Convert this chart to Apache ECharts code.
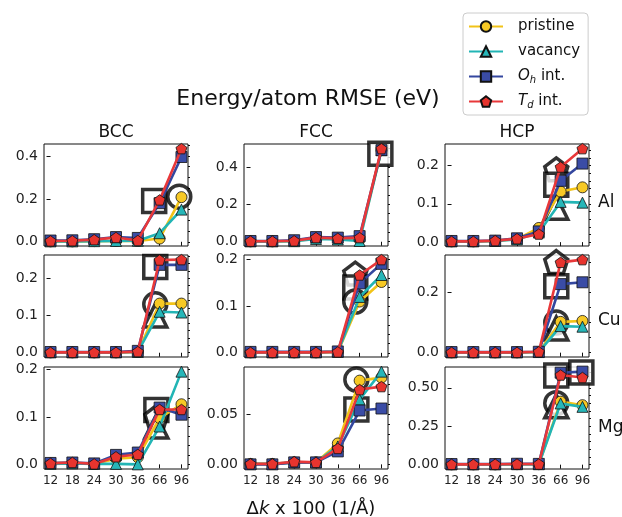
<!DOCTYPE html>
<html>
<head>
<meta charset="utf-8">
<script src="https://cdn.jsdelivr.net/npm/echarts@6/dist/echarts.min.js"></script>
<style>
  html, body { margin: 0; padding: 0; background: #fff; }
  #chart { width: 622px; height: 517px; }
</style>
</head>
<body>
<div id="chart"></div>
<script>
// x tick labels (Δk x 100)
const xLabels = ['12', '18', '24', '30', '36', '66', '96'];
const structures = ['BCC', 'FCC', 'HCP'];
const elements = ['Al', 'Cu', 'Mg'];
const seriesNames = ['pristine', 'vacancy', 'Oh int.', 'Td int.'];

// one row per series: pristine, vacancy, Oh int., Td int.
const bccAl = [
  [0.002, 0.002, 0.003, 0.004, 0.004, 0.015, 0.208],
  [0.002, 0.002, 0.003, 0.004, 0.005, 0.040, 0.150],
  [0.006, 0.007, 0.012, 0.022, 0.018, 0.180, 0.395],
  [0.004, 0.005, 0.010, 0.020, 0.006, 0.195, 0.434]
];
const fccAl = [
  [0.002, 0.002, 0.004, 0.018, 0.016, 0.012, 0.490],
  [0.002, 0.002, 0.003, 0.015, 0.012, 0.004, 0.490],
  [0.004, 0.004, 0.008, 0.025, 0.022, 0.030, 0.490],
  [0.003, 0.003, 0.005, 0.022, 0.018, 0.022, 0.498]
];
const hcpAl = [
  [0.002, 0.002, 0.003, 0.008, 0.037, 0.132, 0.143],
  [0.002, 0.002, 0.003, 0.007, 0.025, 0.105, 0.103],
  [0.003, 0.003, 0.004, 0.010, 0.028, 0.160, 0.205],
  [0.002, 0.002, 0.004, 0.009, 0.021, 0.196, 0.244]
];
const bccCu = [
  [0.001, 0.001, 0.001, 0.001, 0.002, 0.132, 0.132],
  [0.001, 0.001, 0.001, 0.001, 0.002, 0.110, 0.108],
  [0.002, 0.002, 0.002, 0.002, 0.005, 0.236, 0.236],
  [0.001, 0.001, 0.001, 0.001, 0.003, 0.249, 0.250]
];
const fccCu = [
  [0.001, 0.001, 0.001, 0.001, 0.002, 0.110, 0.152],
  [0.001, 0.001, 0.001, 0.001, 0.002, 0.120, 0.167],
  [0.002, 0.002, 0.002, 0.002, 0.003, 0.149, 0.191],
  [0.001, 0.001, 0.001, 0.001, 0.002, 0.167, 0.200]
];
const hcpCu = [
  [0.001, 0.001, 0.001, 0.001, 0.002, 0.102, 0.105],
  [0.001, 0.001, 0.001, 0.001, 0.002, 0.088, 0.086],
  [0.002, 0.002, 0.002, 0.002, 0.003, 0.227, 0.233],
  [0.001, 0.001, 0.001, 0.001, 0.003, 0.299, 0.308]
];
const bccMg = [
  [0.002, 0.003, 0.001, 0.012, 0.015, 0.098, 0.127],
  [0.001, 0.002, 0.001, 0.001, 0.000, 0.080, 0.196],
  [0.003, 0.004, 0.002, 0.020, 0.025, 0.120, 0.105],
  [0.002, 0.004, 0.001, 0.016, 0.021, 0.116, 0.116]
];
const fccMg = [
  [0.0005, 0.0005, 0.002, 0.002, 0.021, 0.084, 0.087],
  [0.0005, 0.0005, 0.002, 0.002, 0.018, 0.065, 0.093],
  [0.000, 0.000, 0.002, 0.002, 0.013, 0.054, 0.056],
  [0.0005, 0.0005, 0.0027, 0.002, 0.016, 0.075, 0.078]
];
const hcpMg = [
  [0.002, 0.002, 0.002, 0.003, 0.003, 0.410, 0.387],
  [0.002, 0.002, 0.002, 0.003, 0.003, 0.398, 0.376],
  [0.004, 0.004, 0.004, 0.006, 0.005, 0.598, 0.605],
  [0.002, 0.002, 0.003, 0.004, 0.004, 0.583, 0.567]
];

// big hollow black markers behind the data: [x index, value, shape]
const bccAlRings = [[4.75, 0.19, 'rect'], [5.9, 0.21, 'circle']];
const fccAlRings = [[5.95, 0.47, 'rect']];
const hcpAlRings = [[4.8, 0.19, 'pentagon'], [4.8, 0.15, 'rect'], [4.8, 0.09, 'triangle']];
const bccCuRings = [[4.8, 0.23, 'rect'], [4.8, 0.13, 'circle'], [4.8, 0.10, 'triangle']];
const fccCuRings = [[4.8, 0.17, 'pentagon'], [4.8, 0.14, 'rect'], [4.8, 0.11, 'circle']];
const hcpCuRings = [[4.8, 0.30, 'pentagon'], [4.8, 0.22, 'rect'], [4.8, 0.10, 'circle'], [4.8, 0.08, 'triangle']];
const bccMgRings = [[4.85, 0.115, 'rect'], [4.85, 0.10, 'pentagon'], [4.85, 0.08, 'triangle']];
const fccMgRings = [[4.85, 0.085, 'circle'], [4.85, 0.055, 'rect']];
const hcpMgRings = [[4.8, 0.58, 'rect'], [4.8, 0.40, 'circle'], [4.8, 0.38, 'triangle'], [5.95, 0.60, 'rect']];

// y tick labels per panel
const bccAlTicks = ['0.0', '0.2', '0.4'];
const fccAlTicks = ['0.0', '0.2', '0.4'];
const hcpAlTicks = ['0.0', '0.1', '0.2'];
const bccCuTicks = ['0.0', '0.1', '0.2'];
const fccCuTicks = ['0.0', '0.1', '0.2'];
const hcpCuTicks = ['0.0', '0.2'];
const bccMgTicks = ['0.0', '0.1', '0.2'];
const fccMgTicks = ['0.00', '0.05'];
const hcpMgTicks = ['0.00', '0.25', '0.50'];

const panelValues = [bccAl, fccAl, hcpAl, bccCu, fccCu, hcpCu, bccMg, fccMg, hcpMg];
const panelRings = [bccAlRings, fccAlRings, hcpAlRings, bccCuRings, fccCuRings, hcpCuRings, bccMgRings, fccMgRings, hcpMgRings];
const panelTicks = [bccAlTicks, fccAlTicks, hcpAlTicks, bccCuTicks, fccCuTicks, hcpCuTicks, bccMgTicks, fccMgTicks, hcpMgTicks];

const FONT = 'DejaVu Sans';
const pentagon = 'path://M0,-1L0.951,-0.309L0.588,0.809L-0.588,0.809L-0.951,-0.309Z';
const symbols = ['circle', 'triangle', 'rect', pentagon];
const fills = ['#F7C925', '#26B6B8', '#3A4CA6', '#E7342E'];
const lineColors = ['#F2C318', '#22B5B5', '#34479F', '#E8383A'];

const colLeft = [44, 244, 445];
const rowTop = [144, 255, 367];
const cellW = 144, cellH = 102;

const grid = [], xAxis = [], yAxis = [], series = [];

panelValues.forEach(function (vals, p) {
  const r = Math.floor(p / 3), c = p % 3;
  grid.push({
    left: colLeft[c], top: rowTop[r], width: cellW, height: cellH,
    show: true, borderColor: '#111', borderWidth: 1, backgroundColor: '#fff'
  });

  const xTicks = xLabels.map(function (_, i) { return i; });
  xAxis.push({
    type: 'value', gridIndex: p, min: -0.3, max: 6.3,
    splitLine: { show: false },
    axisLine: { show: false },
    axisTick: { show: true, length: 4, lineStyle: { color: '#111' }, customValues: xTicks },
    axisLabel: {
      show: r === 2, customValues: xTicks, margin: 6,
      color: '#222', fontSize: 12, fontFamily: FONT,
      formatter: function (v) { return xLabels[Math.round(v)]; }
    }
  });

  // y range like matplotlib autoscale (5% margins)
  let lo = Infinity, hi = -Infinity;
  vals.forEach(function (s) { s.forEach(function (v) { lo = Math.min(lo, v); hi = Math.max(hi, v); }); });
  const pad = (hi - lo) * 0.05;
  const ymin = lo - pad, ymax = hi + pad;

  const labels = panelTicks[p];
  const majors = labels.map(parseFloat);
  const step = majors[1] - majors[0];
  const mant = step / Math.pow(10, Math.floor(Math.log10(step) + 1e-9));
  const ndiv = Math.abs(mant - 2) < 1e-6 ? 4 : 5;
  const minors = [];
  for (let k = Math.ceil(ymin / (step / ndiv)); k * step / ndiv <= ymax; k++) {
    minors.push(k * step / ndiv);
  }

  yAxis.push({
    type: 'value', gridIndex: p, min: ymin, max: ymax,
    splitLine: { show: false },
    axisLine: { show: false },
    axisTick: { show: true, length: 4, lineStyle: { color: '#111' }, customValues: majors },
    axisLabel: {
      customValues: majors, margin: 6, color: '#222', fontSize: 14, fontFamily: FONT,
      formatter: function (v) {
        let best = 0;
        majors.forEach(function (m, i) { if (Math.abs(m - v) < Math.abs(majors[best] - v)) best = i; });
        return labels[best];
      }
    }
  });
  yAxis.push({
    type: 'value', gridIndex: p, min: ymin, max: ymax,
    splitLine: { show: false },
    axisLine: { show: false },
    axisLabel: { show: false },
    axisTick: { show: true, length: 2, lineStyle: { color: '#111' }, customValues: minors }
  });

  series.push({
    type: 'scatter', name: 'rings', xAxisIndex: p, yAxisIndex: 2 * p, z: 1,
    symbolSize: 23, silent: true,
    itemStyle: { color: '#fff', borderColor: '#000', borderWidth: 3.5 },
    data: panelRings[p].map(function (g) {
      return { value: [g[0], g[1]], symbol: g[2] === 'pentagon' ? pentagon : g[2] };
    })
  });

  vals.forEach(function (s, k) {
    series.push({
      type: 'line', name: seriesNames[k], xAxisIndex: p, yAxisIndex: 2 * p, z: 3 + k,
      symbol: symbols[k], symbolSize: 11, symbolKeepAspect: true,
      lineStyle: { color: lineColors[k], width: 2.6 },
      itemStyle: { color: fills[k], borderColor: '#111', borderWidth: 0.8 },
      data: s.map(function (v, i) { return [i, v]; })
    });
  });
});

const graphic = [
  { type: 'text', x: 308, y: 99, style: { text: 'Energy/atom RMSE (eV)', fontSize: 22, fontFamily: FONT, fill: '#111', align: 'center', verticalAlign: 'middle' } },
  {
    type: 'text', x: 311, y: 509,
    style: {
      text: '{n|Δ}{i|k}{n| x 100 (1/Å)}', align: 'center', verticalAlign: 'middle',
      rich: {
        n: { fontSize: 18, fontFamily: FONT, fill: '#111' },
        i: { fontSize: 18, fontFamily: FONT, fontStyle: 'italic', fill: '#111' }
      }
    }
  }
];
structures.forEach(function (s, c) {
  graphic.push({ type: 'text', x: colLeft[c] + cellW / 2, y: 133, style: { text: s, fontSize: 17, fontFamily: FONT, fill: '#111', align: 'center', verticalAlign: 'middle' } });
});
const rowLabelY = [203, 321, 428];
elements.forEach(function (e, r) {
  graphic.push({ type: 'text', x: 598, y: rowLabelY[r], style: { text: e, fontSize: 17, fontFamily: FONT, fill: '#111', align: 'left', verticalAlign: 'middle' } });
});

const chart = echarts.init(document.getElementById('chart'));
chart.setOption({
  animation: false,
  backgroundColor: '#fff',
  grid: grid,
  xAxis: xAxis,
  yAxis: yAxis,
  series: series,
  graphic: graphic,
  legend: {
    data: seriesNames,
    orient: 'vertical',
    left: 463, top: 13,
    padding: [5, 8, 5, 5],
    itemWidth: 34, itemHeight: 13, itemGap: 8,
    borderColor: '#ccc', borderWidth: 1, borderRadius: 4,
    textStyle: {
      fontSize: 15, fontFamily: FONT, color: '#111', padding: [0, 0, 0, 10], lineHeight: 17,
      rich: {
        it: { fontSize: 15, fontFamily: FONT, fontStyle: 'italic', color: '#111' },
        sub: { fontSize: 10, fontFamily: FONT, fontStyle: 'italic', color: '#111', padding: [7, 0, 0, 0] },
        n: { fontSize: 15, fontFamily: FONT, color: '#111' }
      }
    },
    formatter: function (name) {
      if (name === 'Oh int.') return '{it|O}{sub|h}{n| int.}';
      if (name === 'Td int.') return '{it|T}{sub|d}{n| int.}';
      return '{n|' + name + '}';
    }
  }
});
</script>
</body>
</html>
